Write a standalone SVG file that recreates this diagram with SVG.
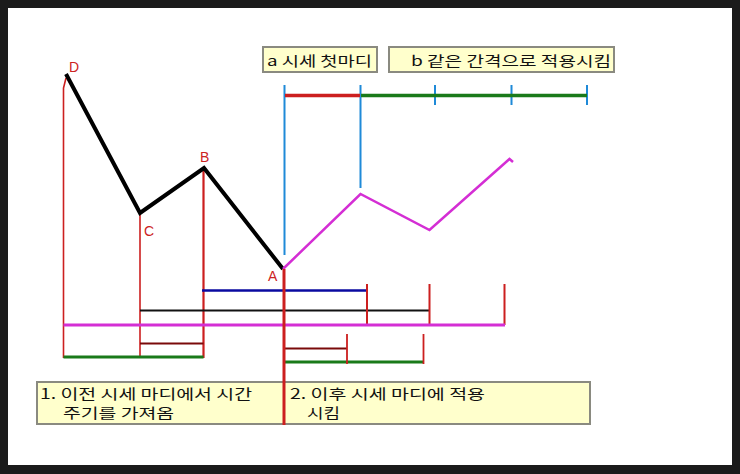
<svg xmlns="http://www.w3.org/2000/svg" width="740" height="474" viewBox="0 0 740 474">
<style>
.lbl{font-family:"Liberation Sans","Noto Sans CJK KR",sans-serif;font-size:14px;fill:#cc2222}
.txt{font-family:"Noto Sans CJK KR","Noto Sans",sans-serif;font-size:14px;fill:#111}
.box{fill:#ffffcc;stroke:#8a8a80;stroke-width:2}
.red{stroke:#cc1f1f;fill:none}
.ln{fill:none;stroke-linecap:butt}
</style>
<rect x="0" y="0" width="740" height="474" fill="#1b1b1b"/>
<rect x="8" y="8" width="724" height="457" fill="#ffffff"/>

<g id="boxes">
<g id="box-a"><rect class="box" x="263" y="47" width="114" height="25"/>
<text class="txt" x="267" y="65.5" textLength="105" lengthAdjust="spacingAndGlyphs">a 시세 첫마디</text></g>
<g id="box-b"><rect class="box" x="389" y="47" width="225" height="25"/>
<text class="txt" x="411" y="65.5" textLength="200" lengthAdjust="spacingAndGlyphs">b 같은 간격으로 적용시킴</text></g>
<g id="box-bottom"><rect class="box" x="37" y="382" width="553" height="42"/>
<text class="txt" x="40" y="399" textLength="212" lengthAdjust="spacingAndGlyphs">1. 이전 시세 마디에서 시간</text>
<text class="txt" x="63" y="418" textLength="111" lengthAdjust="spacingAndGlyphs">주기를 가져옴</text>
<text class="txt" x="290" y="399" textLength="195" lengthAdjust="spacingAndGlyphs">2. 이후 시세 마디에 적용</text>
<text class="txt" x="307" y="418" textLength="33" lengthAdjust="spacingAndGlyphs">시킴</text></g>
</g>

<g id="connectors">
<path class="red" stroke-width="1.6" d="M63.5 358 V88 L66 78"/>
<path class="red" stroke-width="1.6" d="M140 213 V358"/>
<path class="red" stroke-width="2.2" d="M203.5 168 V358"/>
<path class="ln" stroke="#1f8ad8" stroke-width="2" d="M284.5 85 V255 M360.5 85 V188 M435 85 V105 M511.5 85 V105 M587 85 V105"/>
<path class="ln" stroke="#cc1f1f" stroke-width="3.5" d="M285 95.5 H360"/>
<path class="ln" stroke="#1a7a1a" stroke-width="3.5" d="M361 95.5 H587"/>
<path fill="none" stroke="#000" stroke-width="4" stroke-linejoin="miter" d="M66 74 L140 213 L204 168 L283 269"/>
<path fill="none" stroke="#d42ed4" stroke-width="2.5" d="M283 269 L360.5 194 L429.5 230 L509.5 159 L513 162"/>
<path class="ln" stroke="#0a0aa0" stroke-width="2.5" d="M202 290.5 H367"/>
<path class="ln" stroke="#111" stroke-width="2" d="M140 310.5 H429.5"/>
<path class="red" stroke-width="2" d="M367 284 V325 M429.5 284 V325 M504.5 284 V325"/>
<path class="ln" stroke="#d42ed4" stroke-width="3" d="M63.5 325 H505"/>
<path class="ln" stroke="#7a0a0a" stroke-width="2" d="M140 343.5 H203.5"/>
<path class="ln" stroke="#1a7a1a" stroke-width="3" d="M63.5 357 H203.5"/>
<path class="ln" stroke="#7a0a0a" stroke-width="2" d="M284 348.5 H347"/>
<path class="ln" stroke="#1a7a1a" stroke-width="3" d="M284 362 H423.5"/>
<path class="red" stroke-width="1.8" d="M347 334 V364 M423.5 334 V364"/>
<path class="red" stroke-width="3" d="M284 269 V425"/>
</g>

<g id="labels">
<g id="node-D"><text class="lbl" x="69" y="72">D</text></g>
<g id="node-C"><text class="lbl" x="144" y="236">C</text></g>
<g id="node-B"><text class="lbl" x="200" y="162">B</text></g>
<g id="node-A"><text class="lbl" x="268" y="281">A</text></g>
</g>
</svg>
